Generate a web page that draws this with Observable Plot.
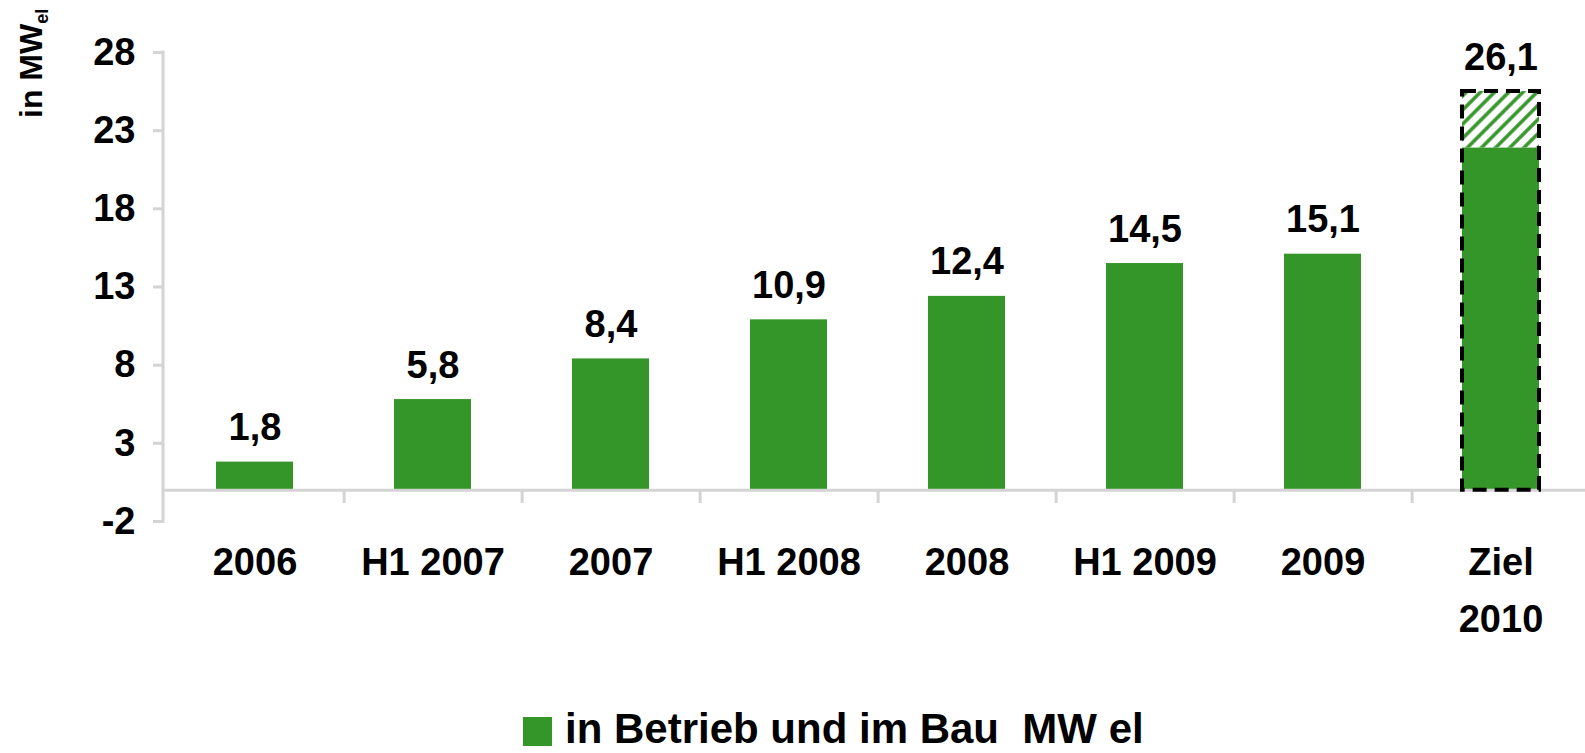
<!DOCTYPE html>
<html>
<head>
<meta charset="utf-8">
<script src="https://cdn.jsdelivr.net/npm/d3@7"></script>
<script src="https://cdn.jsdelivr.net/npm/@observablehq/plot@0.6"></script>
<style>
  html, body { margin: 0; padding: 0; background: #fff; }
  body { width: 1585px; height: 753px; position: relative; overflow: hidden; font-family: "Liberation Sans", Arial, sans-serif; }
  #legend { position: absolute; left: 523px; top: 708px; display: flex; align-items: center; white-space: pre; font-weight: bold; font-size: 42px; color: #000; line-height: 1; }
  #legend .sw { width: 29px; height: 29px; background: #349629; margin-right: 13px; margin-top: 4px; }
</style>
</head>
<body>
<div id="chart"></div>
<div id="legend"><span class="sw"></span><span>in Betrieb und im Bau  MW el</span></div>
<script>
// ---- data ----
const categories = ["2006", "H1 2007", "2007", "H1 2008", "2008", "H1 2009", "2009", "Ziel\n2010"];
const values = [1.8, 5.8, 8.4, 10.9, 12.4, 14.5, 15.1];          // in Betrieb und im Bau
const zielBetrieb = 21.9;                                          // solid part of target bar
const zielGesamt = 25.5;                                           // top of dashed target bar
const valueLabels = ["1,8", "5,8", "8,4", "10,9", "12,4", "14,5", "15,1", "26,1"];
const yTicks = [-2, 3, 8, 13, 18, 23, 28];
const legendLabel = "in Betrieb und im Bau  MW el";

const green = "#349629";
const gray = "#d4d4d4";

const bars = values.map((v, i) => ({cat: categories[i], v}));
const zielCat = categories[7];
const labelData = categories.map((c, i) => ({cat: c, y: i < 7 ? values[i] : zielGesamt, label: valueLabels[i]}));

const W = 1585, H = 700;
const xRange = [164, 1590];
const step = (xRange[1] - xRange[0]) / categories.length;

function defsMark() {
  const ns = "http://www.w3.org/2000/svg";
  const defs = document.createElementNS(ns, "defs");
  const pat = document.createElementNS(ns, "pattern");
  pat.setAttribute("id", "hatch");
  pat.setAttribute("patternUnits", "userSpaceOnUse");
  pat.setAttribute("width", "10");
  pat.setAttribute("height", "10");
  pat.setAttribute("patternTransform", "rotate(45)");
  const bg = document.createElementNS(ns, "rect");
  bg.setAttribute("width", "10"); bg.setAttribute("height", "10"); bg.setAttribute("fill", "#fff");
  const ln = document.createElementNS(ns, "line");
  ln.setAttribute("x1", "2"); ln.setAttribute("x2", "2"); ln.setAttribute("y1", "-1"); ln.setAttribute("y2", "11");
  ln.setAttribute("stroke", green); ln.setAttribute("stroke-width", "3.5");
  pat.appendChild(bg); pat.appendChild(ln); defs.appendChild(pat);
  return defs;
}

function yAxisLine(index, scales, values, dims) {
  const ns = "http://www.w3.org/2000/svg";
  const l = document.createElementNS(ns, "line");
  const x = dims.marginLeft - 1;
  l.setAttribute("x1", x); l.setAttribute("x2", x);
  l.setAttribute("y1", scales.y(yTicks[yTicks.length - 1]) - 1.5);
  l.setAttribute("y2", scales.y(yTicks[0]) + 1.5);
  l.setAttribute("stroke", gray); l.setAttribute("stroke-width", 3);
  return l;
}

const chart = Plot.plot({
  width: W,
  height: H,
  marginTop: 52,
  marginBottom: H - 521,
  marginLeft: 164,
  marginRight: 0,
  style: {fontFamily: "'Liberation Sans', Arial, sans-serif", background: "#fff", overflow: "visible"},
  x: {domain: categories, range: xRange, paddingInner: 0.57, paddingOuter: 0.285, axis: null},
  y: {domain: [-2, 28], ticks: yTicks, axis: null},
  marks: [
    defsMark,
    Plot.axisY({ticks: yTicks, tickSize: 11, tickPadding: 18, stroke: gray, strokeWidth: 3, fill: "#000",
                fontSize: 38, fontWeight: "bold", label: null, tickFormat: d => String(d)}),
    yAxisLine,
    Plot.barY(bars, {x: "cat", y: "v", fill: green}),
    Plot.barY([{cat: zielCat, y1: 0, y2: zielBetrieb}], {x: "cat", y1: "y1", y2: "y2", fill: green}),
    Plot.barY([{cat: zielCat, y1: zielBetrieb, y2: zielGesamt}], {x: "cat", y1: "y1", y2: "y2", fill: "url(#hatch)"}),
    Plot.ruleY([0], {stroke: gray, strokeWidth: 3}),
    Plot.ruleX(categories.slice(0, 7), {x: d => d, y1: 0, y2: -0.85, dx: step / 2, stroke: gray, strokeWidth: 3}),
    Plot.barY([{cat: zielCat, y1: 0, y2: zielGesamt}], {x: "cat", y1: "y1", y2: "y2", fill: "none",
               stroke: "#000", strokeWidth: 4, strokeDasharray: "14 8"}),
    Plot.text(labelData, {x: "cat", y: "y", text: "label", lineAnchor: "bottom", dy: -22,
              fontSize: 38, fontWeight: "bold", fill: "#000"}),
    Plot.text(categories, {x: d => d, y: yTicks[0], text: d => d, lineAnchor: "top", dy: 13, lineHeight: 1.5,
              fontSize: 38, fontWeight: "bold", fill: "#000"})
  ]
});

// y-axis title with subscript
const svg = d3.select(chart);
const t = svg.append("text")
  .attr("transform", "translate(42,118) rotate(-90)")
  .attr("text-anchor", "start")
  .attr("font-weight", "bold")
  .attr("fill", "#000");
t.append("tspan").attr("font-size", 32).text("in MW");
t.append("tspan").attr("font-size", 18).attr("dy", 6).text("el");

document.getElementById("chart").appendChild(chart);
</script>
</body>
</html>
